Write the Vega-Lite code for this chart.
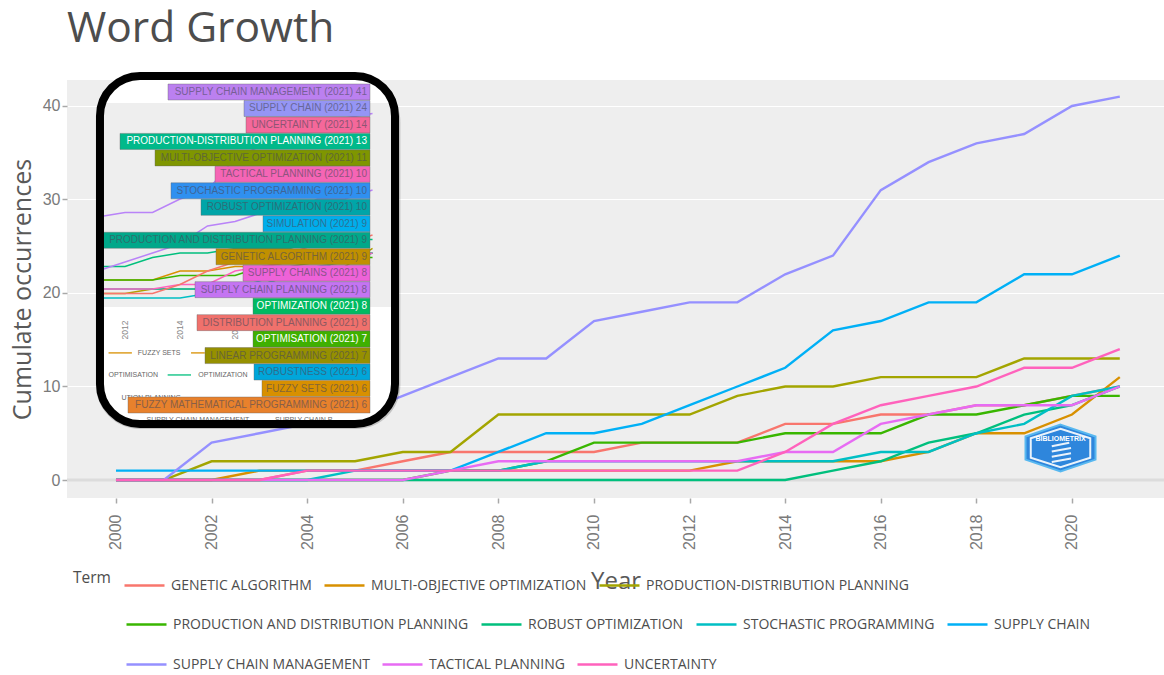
{
"$schema":"https://vega.github.io/schema/vega-lite/v6.json",
"width":1097,"height":418,"autosize":{"type":"none"},
"padding":{"left":67,"top":80,"right":0,"bottom":177},
"background":"white",
"view":{"fill":"#eeeeee","stroke":null},
"title":{"text":"Word Growth","anchor":"start","font":"Open Sans","fontSize":42.5,"fontWeight":"normal","color":"#4d4d4d","frame":"group","offset":21},
"config":{"font":"Open Sans"},
"datasets":{
"growth":[
{"t":"GENETIC ALGORITHM","year":2000,"value":0},{"t":"GENETIC ALGORITHM","year":2001,"value":0},{"t":"GENETIC ALGORITHM","year":2002,"value":0},{"t":"GENETIC ALGORITHM","year":2003,"value":0},{"t":"GENETIC ALGORITHM","year":2004,"value":1},{"t":"GENETIC ALGORITHM","year":2005,"value":1},{"t":"GENETIC ALGORITHM","year":2006,"value":2},{"t":"GENETIC ALGORITHM","year":2007,"value":3},{"t":"GENETIC ALGORITHM","year":2008,"value":3},{"t":"GENETIC ALGORITHM","year":2009,"value":3},{"t":"GENETIC ALGORITHM","year":2010,"value":3},{"t":"GENETIC ALGORITHM","year":2011,"value":4},{"t":"GENETIC ALGORITHM","year":2012,"value":4},{"t":"GENETIC ALGORITHM","year":2013,"value":4},{"t":"GENETIC ALGORITHM","year":2014,"value":6},{"t":"GENETIC ALGORITHM","year":2015,"value":6},{"t":"GENETIC ALGORITHM","year":2016,"value":7},{"t":"GENETIC ALGORITHM","year":2017,"value":7},{"t":"GENETIC ALGORITHM","year":2018,"value":8},{"t":"GENETIC ALGORITHM","year":2019,"value":8},{"t":"GENETIC ALGORITHM","year":2020,"value":9},{"t":"GENETIC ALGORITHM","year":2021,"value":10},
{"t":"MULTI-OBJECTIVE OPTIMIZATION","year":2000,"value":0},{"t":"MULTI-OBJECTIVE OPTIMIZATION","year":2001,"value":0},{"t":"MULTI-OBJECTIVE OPTIMIZATION","year":2002,"value":0},{"t":"MULTI-OBJECTIVE OPTIMIZATION","year":2003,"value":1},{"t":"MULTI-OBJECTIVE OPTIMIZATION","year":2004,"value":1},{"t":"MULTI-OBJECTIVE OPTIMIZATION","year":2005,"value":1},{"t":"MULTI-OBJECTIVE OPTIMIZATION","year":2006,"value":1},{"t":"MULTI-OBJECTIVE OPTIMIZATION","year":2007,"value":1},{"t":"MULTI-OBJECTIVE OPTIMIZATION","year":2008,"value":1},{"t":"MULTI-OBJECTIVE OPTIMIZATION","year":2009,"value":1},{"t":"MULTI-OBJECTIVE OPTIMIZATION","year":2010,"value":1},{"t":"MULTI-OBJECTIVE OPTIMIZATION","year":2011,"value":1},{"t":"MULTI-OBJECTIVE OPTIMIZATION","year":2012,"value":1},{"t":"MULTI-OBJECTIVE OPTIMIZATION","year":2013,"value":2},{"t":"MULTI-OBJECTIVE OPTIMIZATION","year":2014,"value":2},{"t":"MULTI-OBJECTIVE OPTIMIZATION","year":2015,"value":2},{"t":"MULTI-OBJECTIVE OPTIMIZATION","year":2016,"value":2},{"t":"MULTI-OBJECTIVE OPTIMIZATION","year":2017,"value":3},{"t":"MULTI-OBJECTIVE OPTIMIZATION","year":2018,"value":5},{"t":"MULTI-OBJECTIVE OPTIMIZATION","year":2019,"value":5},{"t":"MULTI-OBJECTIVE OPTIMIZATION","year":2020,"value":7},{"t":"MULTI-OBJECTIVE OPTIMIZATION","year":2021,"value":11},
{"t":"PRODUCTION-DISTRIBUTION PLANNING","year":2000,"value":0},{"t":"PRODUCTION-DISTRIBUTION PLANNING","year":2001,"value":0},{"t":"PRODUCTION-DISTRIBUTION PLANNING","year":2002,"value":2},{"t":"PRODUCTION-DISTRIBUTION PLANNING","year":2003,"value":2},{"t":"PRODUCTION-DISTRIBUTION PLANNING","year":2004,"value":2},{"t":"PRODUCTION-DISTRIBUTION PLANNING","year":2005,"value":2},{"t":"PRODUCTION-DISTRIBUTION PLANNING","year":2006,"value":3},{"t":"PRODUCTION-DISTRIBUTION PLANNING","year":2007,"value":3},{"t":"PRODUCTION-DISTRIBUTION PLANNING","year":2008,"value":7},{"t":"PRODUCTION-DISTRIBUTION PLANNING","year":2009,"value":7},{"t":"PRODUCTION-DISTRIBUTION PLANNING","year":2010,"value":7},{"t":"PRODUCTION-DISTRIBUTION PLANNING","year":2011,"value":7},{"t":"PRODUCTION-DISTRIBUTION PLANNING","year":2012,"value":7},{"t":"PRODUCTION-DISTRIBUTION PLANNING","year":2013,"value":9},{"t":"PRODUCTION-DISTRIBUTION PLANNING","year":2014,"value":10},{"t":"PRODUCTION-DISTRIBUTION PLANNING","year":2015,"value":10},{"t":"PRODUCTION-DISTRIBUTION PLANNING","year":2016,"value":11},{"t":"PRODUCTION-DISTRIBUTION PLANNING","year":2017,"value":11},{"t":"PRODUCTION-DISTRIBUTION PLANNING","year":2018,"value":11},{"t":"PRODUCTION-DISTRIBUTION PLANNING","year":2019,"value":13},{"t":"PRODUCTION-DISTRIBUTION PLANNING","year":2020,"value":13},{"t":"PRODUCTION-DISTRIBUTION PLANNING","year":2021,"value":13},
{"t":"PRODUCTION AND DISTRIBUTION PLANNING","year":2000,"value":0},{"t":"PRODUCTION AND DISTRIBUTION PLANNING","year":2001,"value":0},{"t":"PRODUCTION AND DISTRIBUTION PLANNING","year":2002,"value":0},{"t":"PRODUCTION AND DISTRIBUTION PLANNING","year":2003,"value":0},{"t":"PRODUCTION AND DISTRIBUTION PLANNING","year":2004,"value":0},{"t":"PRODUCTION AND DISTRIBUTION PLANNING","year":2005,"value":0},{"t":"PRODUCTION AND DISTRIBUTION PLANNING","year":2006,"value":0},{"t":"PRODUCTION AND DISTRIBUTION PLANNING","year":2007,"value":1},{"t":"PRODUCTION AND DISTRIBUTION PLANNING","year":2008,"value":1},{"t":"PRODUCTION AND DISTRIBUTION PLANNING","year":2009,"value":2},{"t":"PRODUCTION AND DISTRIBUTION PLANNING","year":2010,"value":4},{"t":"PRODUCTION AND DISTRIBUTION PLANNING","year":2011,"value":4},{"t":"PRODUCTION AND DISTRIBUTION PLANNING","year":2012,"value":4},{"t":"PRODUCTION AND DISTRIBUTION PLANNING","year":2013,"value":4},{"t":"PRODUCTION AND DISTRIBUTION PLANNING","year":2014,"value":5},{"t":"PRODUCTION AND DISTRIBUTION PLANNING","year":2015,"value":5},{"t":"PRODUCTION AND DISTRIBUTION PLANNING","year":2016,"value":5},{"t":"PRODUCTION AND DISTRIBUTION PLANNING","year":2017,"value":7},{"t":"PRODUCTION AND DISTRIBUTION PLANNING","year":2018,"value":7},{"t":"PRODUCTION AND DISTRIBUTION PLANNING","year":2019,"value":8},{"t":"PRODUCTION AND DISTRIBUTION PLANNING","year":2020,"value":9},{"t":"PRODUCTION AND DISTRIBUTION PLANNING","year":2021,"value":9},
{"t":"ROBUST OPTIMIZATION","year":2000,"value":0},{"t":"ROBUST OPTIMIZATION","year":2001,"value":0},{"t":"ROBUST OPTIMIZATION","year":2002,"value":0},{"t":"ROBUST OPTIMIZATION","year":2003,"value":0},{"t":"ROBUST OPTIMIZATION","year":2004,"value":0},{"t":"ROBUST OPTIMIZATION","year":2005,"value":0},{"t":"ROBUST OPTIMIZATION","year":2006,"value":0},{"t":"ROBUST OPTIMIZATION","year":2007,"value":0},{"t":"ROBUST OPTIMIZATION","year":2008,"value":0},{"t":"ROBUST OPTIMIZATION","year":2009,"value":0},{"t":"ROBUST OPTIMIZATION","year":2010,"value":0},{"t":"ROBUST OPTIMIZATION","year":2011,"value":0},{"t":"ROBUST OPTIMIZATION","year":2012,"value":0},{"t":"ROBUST OPTIMIZATION","year":2013,"value":0},{"t":"ROBUST OPTIMIZATION","year":2014,"value":0},{"t":"ROBUST OPTIMIZATION","year":2015,"value":1},{"t":"ROBUST OPTIMIZATION","year":2016,"value":2},{"t":"ROBUST OPTIMIZATION","year":2017,"value":4},{"t":"ROBUST OPTIMIZATION","year":2018,"value":5},{"t":"ROBUST OPTIMIZATION","year":2019,"value":7},{"t":"ROBUST OPTIMIZATION","year":2020,"value":8},{"t":"ROBUST OPTIMIZATION","year":2021,"value":10},
{"t":"STOCHASTIC PROGRAMMING","year":2000,"value":0},{"t":"STOCHASTIC PROGRAMMING","year":2001,"value":0},{"t":"STOCHASTIC PROGRAMMING","year":2002,"value":0},{"t":"STOCHASTIC PROGRAMMING","year":2003,"value":0},{"t":"STOCHASTIC PROGRAMMING","year":2004,"value":0},{"t":"STOCHASTIC PROGRAMMING","year":2005,"value":1},{"t":"STOCHASTIC PROGRAMMING","year":2006,"value":1},{"t":"STOCHASTIC PROGRAMMING","year":2007,"value":1},{"t":"STOCHASTIC PROGRAMMING","year":2008,"value":1},{"t":"STOCHASTIC PROGRAMMING","year":2009,"value":2},{"t":"STOCHASTIC PROGRAMMING","year":2010,"value":2},{"t":"STOCHASTIC PROGRAMMING","year":2011,"value":2},{"t":"STOCHASTIC PROGRAMMING","year":2012,"value":2},{"t":"STOCHASTIC PROGRAMMING","year":2013,"value":2},{"t":"STOCHASTIC PROGRAMMING","year":2014,"value":2},{"t":"STOCHASTIC PROGRAMMING","year":2015,"value":2},{"t":"STOCHASTIC PROGRAMMING","year":2016,"value":3},{"t":"STOCHASTIC PROGRAMMING","year":2017,"value":3},{"t":"STOCHASTIC PROGRAMMING","year":2018,"value":5},{"t":"STOCHASTIC PROGRAMMING","year":2019,"value":6},{"t":"STOCHASTIC PROGRAMMING","year":2020,"value":9},{"t":"STOCHASTIC PROGRAMMING","year":2021,"value":10},
{"t":"SUPPLY CHAIN","year":2000,"value":1},{"t":"SUPPLY CHAIN","year":2001,"value":1},{"t":"SUPPLY CHAIN","year":2002,"value":1},{"t":"SUPPLY CHAIN","year":2003,"value":1},{"t":"SUPPLY CHAIN","year":2004,"value":1},{"t":"SUPPLY CHAIN","year":2005,"value":1},{"t":"SUPPLY CHAIN","year":2006,"value":1},{"t":"SUPPLY CHAIN","year":2007,"value":1},{"t":"SUPPLY CHAIN","year":2008,"value":3},{"t":"SUPPLY CHAIN","year":2009,"value":5},{"t":"SUPPLY CHAIN","year":2010,"value":5},{"t":"SUPPLY CHAIN","year":2011,"value":6},{"t":"SUPPLY CHAIN","year":2012,"value":8},{"t":"SUPPLY CHAIN","year":2013,"value":10},{"t":"SUPPLY CHAIN","year":2014,"value":12},{"t":"SUPPLY CHAIN","year":2015,"value":16},{"t":"SUPPLY CHAIN","year":2016,"value":17},{"t":"SUPPLY CHAIN","year":2017,"value":19},{"t":"SUPPLY CHAIN","year":2018,"value":19},{"t":"SUPPLY CHAIN","year":2019,"value":22},{"t":"SUPPLY CHAIN","year":2020,"value":22},{"t":"SUPPLY CHAIN","year":2021,"value":24},
{"t":"SUPPLY CHAIN MANAGEMENT","year":2000,"value":0},{"t":"SUPPLY CHAIN MANAGEMENT","year":2001,"value":0},{"t":"SUPPLY CHAIN MANAGEMENT","year":2002,"value":4},{"t":"SUPPLY CHAIN MANAGEMENT","year":2003,"value":5},{"t":"SUPPLY CHAIN MANAGEMENT","year":2004,"value":6},{"t":"SUPPLY CHAIN MANAGEMENT","year":2005,"value":7},{"t":"SUPPLY CHAIN MANAGEMENT","year":2006,"value":9},{"t":"SUPPLY CHAIN MANAGEMENT","year":2007,"value":11},{"t":"SUPPLY CHAIN MANAGEMENT","year":2008,"value":13},{"t":"SUPPLY CHAIN MANAGEMENT","year":2009,"value":13},{"t":"SUPPLY CHAIN MANAGEMENT","year":2010,"value":17},{"t":"SUPPLY CHAIN MANAGEMENT","year":2011,"value":18},{"t":"SUPPLY CHAIN MANAGEMENT","year":2012,"value":19},{"t":"SUPPLY CHAIN MANAGEMENT","year":2013,"value":19},{"t":"SUPPLY CHAIN MANAGEMENT","year":2014,"value":22},{"t":"SUPPLY CHAIN MANAGEMENT","year":2015,"value":24},{"t":"SUPPLY CHAIN MANAGEMENT","year":2016,"value":31},{"t":"SUPPLY CHAIN MANAGEMENT","year":2017,"value":34},{"t":"SUPPLY CHAIN MANAGEMENT","year":2018,"value":36},{"t":"SUPPLY CHAIN MANAGEMENT","year":2019,"value":37},{"t":"SUPPLY CHAIN MANAGEMENT","year":2020,"value":40},{"t":"SUPPLY CHAIN MANAGEMENT","year":2021,"value":41},
{"t":"TACTICAL PLANNING","year":2000,"value":0},{"t":"TACTICAL PLANNING","year":2001,"value":0},{"t":"TACTICAL PLANNING","year":2002,"value":0},{"t":"TACTICAL PLANNING","year":2003,"value":0},{"t":"TACTICAL PLANNING","year":2004,"value":0},{"t":"TACTICAL PLANNING","year":2005,"value":0},{"t":"TACTICAL PLANNING","year":2006,"value":0},{"t":"TACTICAL PLANNING","year":2007,"value":1},{"t":"TACTICAL PLANNING","year":2008,"value":2},{"t":"TACTICAL PLANNING","year":2009,"value":2},{"t":"TACTICAL PLANNING","year":2010,"value":2},{"t":"TACTICAL PLANNING","year":2011,"value":2},{"t":"TACTICAL PLANNING","year":2012,"value":2},{"t":"TACTICAL PLANNING","year":2013,"value":2},{"t":"TACTICAL PLANNING","year":2014,"value":3},{"t":"TACTICAL PLANNING","year":2015,"value":3},{"t":"TACTICAL PLANNING","year":2016,"value":6},{"t":"TACTICAL PLANNING","year":2017,"value":7},{"t":"TACTICAL PLANNING","year":2018,"value":8},{"t":"TACTICAL PLANNING","year":2019,"value":8},{"t":"TACTICAL PLANNING","year":2020,"value":8},{"t":"TACTICAL PLANNING","year":2021,"value":10},
{"t":"UNCERTAINTY","year":2000,"value":0},{"t":"UNCERTAINTY","year":2001,"value":0},{"t":"UNCERTAINTY","year":2002,"value":0},{"t":"UNCERTAINTY","year":2003,"value":0},{"t":"UNCERTAINTY","year":2004,"value":1},{"t":"UNCERTAINTY","year":2005,"value":1},{"t":"UNCERTAINTY","year":2006,"value":1},{"t":"UNCERTAINTY","year":2007,"value":1},{"t":"UNCERTAINTY","year":2008,"value":1},{"t":"UNCERTAINTY","year":2009,"value":1},{"t":"UNCERTAINTY","year":2010,"value":1},{"t":"UNCERTAINTY","year":2011,"value":1},{"t":"UNCERTAINTY","year":2012,"value":1},{"t":"UNCERTAINTY","year":2013,"value":1},{"t":"UNCERTAINTY","year":2014,"value":3},{"t":"UNCERTAINTY","year":2015,"value":6},{"t":"UNCERTAINTY","year":2016,"value":8},{"t":"UNCERTAINTY","year":2017,"value":9},{"t":"UNCERTAINTY","year":2018,"value":10},{"t":"UNCERTAINTY","year":2019,"value":12},{"t":"UNCERTAINTY","year":2020,"value":12},{"t":"UNCERTAINTY","year":2021,"value":14}
],
"labels":[
{"t":"SUPPLY CHAIN MANAGEMENT","label":"SUPPLY CHAIN MANAGEMENT (2021) 41","w":202},
{"t":"SUPPLY CHAIN","label":"SUPPLY CHAIN (2021) 24","w":126},
{"t":"UNCERTAINTY","label":"UNCERTAINTY (2021) 14","w":124},
{"t":"PRODUCTION-DISTRIBUTION PLANNING","label":"PRODUCTION-DISTRIBUTION PLANNING (2021) 13","w":250},
{"t":"MULTI-OBJECTIVE OPTIMIZATION","label":"MULTI-OBJECTIVE OPTIMIZATION (2021) 11","w":215},
{"t":"TACTICAL PLANNING","label":"TACTICAL PLANNING (2021) 10","w":155},
{"t":"STOCHASTIC PROGRAMMING","label":"STOCHASTIC PROGRAMMING (2021) 10","w":199},
{"t":"ROBUST OPTIMIZATION","label":"ROBUST OPTIMIZATION (2021) 10","w":169},
{"t":"SIMULATION","label":"SIMULATION (2021) 9","w":107},
{"t":"PRODUCTION AND DISTRIBUTION PLANNING","label":"PRODUCTION AND DISTRIBUTION PLANNING (2021) 9","w":267},
{"t":"GENETIC ALGORITHM","label":"GENETIC ALGORITHM (2021) 9","w":154},
{"t":"SUPPLY CHAINS","label":"SUPPLY CHAINS (2021) 8","w":127},
{"t":"SUPPLY CHAIN PLANNING","label":"SUPPLY CHAIN PLANNING (2021) 8","w":175},
{"t":"OPTIMIZATION","label":"OPTIMIZATION (2021) 8","w":117},
{"t":"DISTRIBUTION PLANNING","label":"DISTRIBUTION PLANNING (2021) 8","w":173},
{"t":"OPTIMISATION","label":"OPTIMISATION (2021) 7","w":117},
{"t":"LINEAR PROGRAMMING","label":"LINEAR PROGRAMMING (2021) 7","w":165},
{"t":"ROBUSTNESS","label":"ROBUSTNESS (2021) 6","w":116},
{"t":"FUZZY SETS","label":"FUZZY SETS (2021) 6","w":108},
{"t":"FUZZY MATHEMATICAL PROGRAMMING","label":"FUZZY MATHEMATICAL PROGRAMMING (2021) 6","w":242}
],
"insetText":[
{"txt":"FUZZY SETS","year":2013.24,"value":-12.2},
{"txt":"OPTIMISATION","year":2012.3,"value":-17.1},
{"txt":"OPTIMIZATION","year":2015.56,"value":-17.1},
{"txt":"UTION PLANNING","year":2012.95,"value":-22.2},
{"txt":"SUPPLY CHAIN MANAGEMENT","year":2014.65,"value":-27.1},
{"txt":"SUPPLY CHAIN P","year":2018.5,"value":-27.1}
],
"insetTicks":[{"txt":"2012","year":2012,"value":-7.1},{"txt":"2014","year":2014,"value":-7.1},{"txt":"2016","year":2016,"value":-7.1}],
"insetKeys":[
{"t":"FUZZY SETS","year":2011.4,"year2":2012.25,"value":-12.2},
{"t":"LINEAR PROGRAMMING","year":2014.4,"year2":2014.9,"value":-12.2},
{"t":"OPTIMIZATION","year":2013.55,"year2":2014.4,"value":-17.1}
]
},
"resolve":{"scale":{"x":"independent","y":"independent","color":"independent"},"axis":{"x":"independent","y":"independent"}},
"layer":[
{"data":{"values":[{"v":0}]},"mark":{"type":"rule","color":"#dcdcdc","strokeWidth":3},
 "encoding":{"y":{"field":"v","type":"quantitative","scale":{"domain":[-1.925,42.78],"nice":false,"zero":false},
   "axis":{"values":[0,10,20,30,40],"title":"Cumulate occurrences","titleFontSize":25,"titleFontWeight":"normal","titleColor":"#595959","titleBaseline":"alphabetic","titleX":-37,"titleAnchor":"middle","labelFont":"Liberation Sans","labelFontSize":16,"labelColor":"#7a7a7a","labelPadding":2,"tickColor":"#a8a8a8","tickSize":5,"tickWidth":1.5,"domain":false,"gridColor":"#ffffff","gridWidth":1.2}}}},
{"data":{"values":[{"logo":"BIBLIOMETRIX"}]},"mark":{"type":"point","filled":true,"shape":"M0,-0.67 L1,-0.33 L1,0.33 L0,0.67 L-1,0.33 L-1,-0.33 Z","size":4900,"fill":"#2e86dc","stroke":"#58b8f0","strokeWidth":2,"opacity":1},
 "encoding":{"x":{"datum":2019.76,"type":"quantitative","scale":{"domain":[1998.975,2021.925],"nice":false,"zero":false},"axis":null},
  "y":{"datum":3.42,"type":"quantitative","scale":{"domain":[-1.925,42.78],"nice":false,"zero":false},"axis":null}}},
{"data":{"values":[{"logo":"BIBLIOMETRIX"}]},"mark":{"type":"point","filled":false,"shape":"M-0.85,-0.28 L0,-0.55 L0.85,-0.28 L0.85,0.28 L0,0.55 L-0.85,0.28 Z M-0.25,-0.05 L0.25,-0.15 M-0.25,0.1 L0.3,0 M-0.25,0.25 L0.3,0.15 M-0.25,0.4 L0.3,0.3","size":4900,"stroke":"#ffffff","strokeWidth":2,"opacity":0.9},
 "encoding":{"x":{"datum":2019.76,"type":"quantitative","scale":{"domain":[1998.975,2021.925],"nice":false,"zero":false},"axis":null},
  "y":{"datum":3.42,"type":"quantitative","scale":{"domain":[-1.925,42.78],"nice":false,"zero":false},"axis":null}}},
{"data":{"values":[{"logo":"BIBLIOMETRIX"}]},"mark":{"type":"text","font":"Liberation Sans","fontSize":7,"fontWeight":"bold","color":"#ffffff"},
 "encoding":{"text":{"field":"logo"},"x":{"datum":2019.76,"type":"quantitative","scale":{"domain":[1998.975,2021.925],"nice":false,"zero":false},"axis":null},
  "y":{"datum":4.35,"type":"quantitative","scale":{"domain":[-1.925,42.78],"nice":false,"zero":false},"axis":null}}},
{"data":{"name":"growth"},"mark":{"type":"line","strokeWidth":2.4,"clip":true},
 "transform":[{"filter":{"field":"t","oneOf":["GENETIC ALGORITHM","MULTI-OBJECTIVE OPTIMIZATION","PRODUCTION-DISTRIBUTION PLANNING"]}}],
 "encoding":{
  "x":{"field":"year","type":"quantitative","scale":{"domain":[1998.975,2021.925],"nice":false,"zero":false},
    "axis":{"values":[2000,2002,2004,2006,2008,2010,2012,2014,2016,2018,2020],"format":"d","labelAngle":-90,"labelAlign":"right","labelBaseline":"middle","labelFont":"Liberation Sans","labelFontSize":16,"labelColor":"#7a7a7a","labelPadding":11,"tickColor":"#a8a8a8","tickSize":5,"tickWidth":1.5,"domain":false,"gridColor":"#ffffff","gridWidth":1.2,"title":"Year","titleFontSize":24,"titleFontWeight":"normal","titleColor":"#595959","titleBaseline":"alphabetic","titleY":90}},
  "y":{"field":"value","type":"quantitative","scale":{"domain":[-1.925,42.78],"nice":false,"zero":false},"axis":null},
  "color":{"field":"t","type":"nominal","sort":null,"scale":{"domain":["GENETIC ALGORITHM","MULTI-OBJECTIVE OPTIMIZATION","PRODUCTION-DISTRIBUTION PLANNING"],"range":["#F8766D","#D89000","#A3A500"]},
    "legend":{"orient":"none","legendX":6,"legendY":484,"title":"Term","titleOrient":"left","titleFontSize":15.5,"titleFontWeight":"normal","titleColor":"#4d4d4d","titlePadding":12,"padding":0,"direction":"horizontal","columns":4,"gridAlign":"none","columnPadding":7,"symbolType":"stroke","symbolSize":1600,"symbolStrokeWidth":2.4,"labelFontSize":14,"labelLimit":0,"labelColor":"#4d4d4d","labelOffset":5}}
 }},
{"data":{"name":"growth"},"mark":{"type":"line","strokeWidth":2.4,"clip":true},
 "transform":[{"filter":{"field":"t","oneOf":["PRODUCTION AND DISTRIBUTION PLANNING","ROBUST OPTIMIZATION","STOCHASTIC PROGRAMMING","SUPPLY CHAIN"]}}],
 "encoding":{
  "x":{"field":"year","type":"quantitative","scale":{"domain":[1998.975,2021.925],"nice":false,"zero":false},"axis":null},
  "y":{"field":"value","type":"quantitative","scale":{"domain":[-1.925,42.78],"nice":false,"zero":false},"axis":null},
  "color":{"field":"t","type":"nominal","sort":null,"scale":{"domain":["PRODUCTION AND DISTRIBUTION PLANNING","ROBUST OPTIMIZATION","STOCHASTIC PROGRAMMING","SUPPLY CHAIN"],"range":["#39B600","#00BF7D","#00BFC4","#00B0F6"]},
    "legend":{"orient":"none","legendX":58,"legendY":523,"title":null,"padding":0,"direction":"horizontal","columns":4,"gridAlign":"none","columnPadding":7,"symbolType":"stroke","symbolSize":1600,"symbolStrokeWidth":2.4,"labelFontSize":14,"labelLimit":0,"labelColor":"#4d4d4d","labelOffset":5}}
 }},
{"data":{"name":"growth"},"mark":{"type":"line","strokeWidth":2.4,"clip":true},
 "transform":[{"filter":{"field":"t","oneOf":["SUPPLY CHAIN MANAGEMENT","TACTICAL PLANNING","UNCERTAINTY"]}}],
 "encoding":{
  "x":{"field":"year","type":"quantitative","scale":{"domain":[1998.975,2021.925],"nice":false,"zero":false},"axis":null},
  "y":{"field":"value","type":"quantitative","scale":{"domain":[-1.925,42.78],"nice":false,"zero":false},"axis":null},
  "color":{"field":"t","type":"nominal","sort":null,"scale":{"domain":["SUPPLY CHAIN MANAGEMENT","TACTICAL PLANNING","UNCERTAINTY"],"range":["#9590FF","#E76BF3","#FF62BC"]},
    "legend":{"orient":"none","legendX":58,"legendY":563,"title":null,"padding":0,"direction":"horizontal","columns":4,"gridAlign":"none","columnPadding":7,"symbolType":"stroke","symbolSize":1600,"symbolStrokeWidth":2.4,"labelFontSize":14,"labelLimit":0,"labelColor":"#4d4d4d","labelOffset":5}}
 }},
{"data":{"values":[{"part":"shadow"}]},"mark":{"type":"rect","cornerRadius":44,"fill":"#000000","opacity":0.18},
 "encoding":{"x":{"datum":1999.58,"type":"quantitative","scale":{"domain":[1998.975,2021.925],"nice":false,"zero":false},"axis":null},"x2":{"datum":2005.95},
  "y":{"datum":43.0,"type":"quantitative","scale":{"domain":[-1.925,42.78],"nice":false,"zero":false},"axis":null},"y2":{"datum":5.45}}},
{"data":{"values":[{"part":"card"}]},"mark":{"type":"rect","cornerRadius":40,"fill":"#ffffff"},
 "encoding":{"x":{"datum":1999.665,"type":"quantitative","scale":{"domain":[1998.975,2021.925],"nice":false,"zero":false},"axis":null},"x2":{"datum":2005.837},
  "y":{"datum":43.21,"type":"quantitative","scale":{"domain":[-1.925,42.78],"nice":false,"zero":false},"axis":null},"y2":{"datum":5.99}}},
{"data":{"values":[{"part":"panel"}]},"mark":{"type":"rect","fill":"#eeeeee"},
 "encoding":{"x":{"datum":1999.73,"type":"quantitative","scale":{"domain":[1998.975,2021.925],"nice":false,"zero":false},"axis":null},"x2":{"datum":2005.77},
  "y":{"datum":40.32,"type":"quantitative","scale":{"domain":[-1.925,42.78],"nice":false,"zero":false},"axis":null},"y2":{"datum":18.5}}},
{"data":{"name":"growth"},"transform":[{"filter":"datum.year>=2011"}],"mark":{"type":"line","strokeWidth":1.5},
 "encoding":{"x":{"field":"year","type":"quantitative","scale":{"domain":[2009.89,2049.78],"nice":false,"zero":false},"axis":null},
  "y":{"field":"value","type":"quantitative","scale":{"domain":[-44.44,48.44],"nice":false,"zero":false},"axis":null},
  "color":{"field":"t","type":"nominal","legend":null,"scale":{"domain":["GENETIC ALGORITHM","MULTI-OBJECTIVE OPTIMIZATION","PRODUCTION-DISTRIBUTION PLANNING","PRODUCTION AND DISTRIBUTION PLANNING","ROBUST OPTIMIZATION","STOCHASTIC PROGRAMMING","SUPPLY CHAIN","SUPPLY CHAIN MANAGEMENT","TACTICAL PLANNING","UNCERTAINTY"],"range":["#D89000","#B0A000","#00BF7D","#39B600","#00BFC4","#00C0B0","#B983F8","#B983F8","#FF62BC","#F8766D"]}}}},
{"data":{"name":"insetTicks"},"mark":{"type":"text","angle":270,"font":"Liberation Sans","fontSize":8.5,"color":"#888888"},
 "encoding":{"text":{"field":"txt"},"x":{"field":"year","type":"quantitative","scale":{"domain":[2009.89,2049.78],"nice":false,"zero":false},"axis":null},
  "y":{"field":"value","type":"quantitative","scale":{"domain":[-44.44,48.44],"nice":false,"zero":false},"axis":null}}},
{"data":{"name":"insetText"},"mark":{"type":"text","font":"Liberation Sans","fontSize":7,"color":"#666666"},
 "encoding":{"text":{"field":"txt"},"x":{"field":"year","type":"quantitative","scale":{"domain":[2009.89,2049.78],"nice":false,"zero":false},"axis":null},
  "y":{"field":"value","type":"quantitative","scale":{"domain":[-44.44,48.44],"nice":false,"zero":false},"axis":null}}},
{"data":{"name":"insetKeys"},"mark":{"type":"rule","strokeWidth":1.3},
 "encoding":{"x":{"field":"year","type":"quantitative","scale":{"domain":[2009.89,2049.78],"nice":false,"zero":false},"axis":null},"x2":{"field":"year2"},
  "y":{"field":"value","type":"quantitative","scale":{"domain":[-44.44,48.44],"nice":false,"zero":false},"axis":null},
  "color":{"field":"t","type":"nominal","legend":null,"scale":{"domain":["FUZZY SETS","LINEAR PROGRAMMING","OPTIMIZATION"],"range":["#D89000","#D89000","#00BF7D"]}}}},
{"data":{"name":"labels"},"mark":{"type":"bar","height":16,"orient":"horizontal","stroke":"#666666","strokeWidth":0.4},
 "encoding":{"x":{"field":"w","type":"quantitative","scale":{"domain":[-794,303],"reverse":true,"nice":false,"zero":false},"axis":null},"x2":{"datum":0},
  "y":{"field":"label","type":"ordinal","sort":null,"scale":{"type":"point","range":[12,325],"padding":0},"axis":null},
  "color":{"field":"t","type":"nominal","legend":null,"scale":{"domain":["SUPPLY CHAIN MANAGEMENT","SUPPLY CHAIN","UNCERTAINTY","PRODUCTION-DISTRIBUTION PLANNING","MULTI-OBJECTIVE OPTIMIZATION","TACTICAL PLANNING","STOCHASTIC PROGRAMMING","ROBUST OPTIMIZATION","SIMULATION","PRODUCTION AND DISTRIBUTION PLANNING","GENETIC ALGORITHM","SUPPLY CHAINS","SUPPLY CHAIN PLANNING","OPTIMIZATION","DISTRIBUTION PLANNING","OPTIMISATION","LINEAR PROGRAMMING","ROBUSTNESS","FUZZY SETS","FUZZY MATHEMATICAL PROGRAMMING"],"range":["#BB80F0","#9595F5","#F5689A","#00B98A","#7F9600","#F565B5","#2F90F0","#00A5A8","#00AEEC","#00A88A","#C09000","#EE62D8","#C474F2","#00BA62","#F0716C","#3FB000","#969000","#00A6DA","#D89000","#E8812C"]}}}},
{"data":{"name":"labels"},"mark":{"type":"text","align":"right","dx":-3,"font":"Liberation Sans","fontSize":10},
 "encoding":{"text":{"field":"label"},"x":{"datum":0,"type":"quantitative","scale":{"domain":[-794,303],"reverse":true,"nice":false,"zero":false},"axis":null},
  "y":{"field":"label","type":"ordinal","sort":null,"scale":{"type":"point","range":[12,325],"padding":0},"axis":null},
  "color":{"condition":{"test":"indexof(['PRODUCTION-DISTRIBUTION PLANNING','OPTIMIZATION','OPTIMISATION'],datum.t)>=0","value":"#ffffff"},"value":"#4a4a5a"},
  "opacity":{"condition":{"test":"indexof(['PRODUCTION-DISTRIBUTION PLANNING','OPTIMIZATION','OPTIMISATION'],datum.t)>=0","value":1},"value":0.6}}},
{"data":{"values":[{"part":"frame"}]},"mark":{"type":"rect","cornerRadius":40,"fillOpacity":0,"stroke":"#000000","strokeWidth":8},
 "encoding":{"x":{"datum":1999.665,"type":"quantitative","scale":{"domain":[1998.975,2021.925],"nice":false,"zero":false},"axis":null},"x2":{"datum":2005.837},
  "y":{"datum":43.21,"type":"quantitative","scale":{"domain":[-1.925,42.78],"nice":false,"zero":false},"axis":null},"y2":{"datum":5.99}}}
]
}
